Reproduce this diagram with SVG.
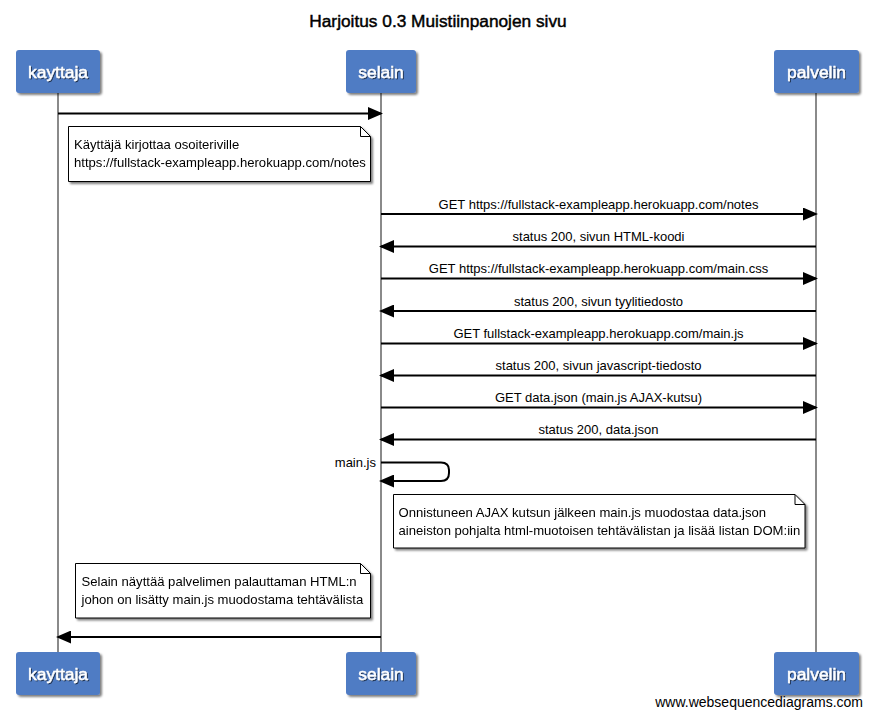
<svg xmlns="http://www.w3.org/2000/svg" width="874" height="718" viewBox="0 0 874 718">
<style>
  text { font-family: "Liberation Sans", Arial, sans-serif; fill: #000; }
  .title { font-size: 17.3px; text-anchor: middle; stroke: #000; stroke-width: 0.45; }
  .actor rect { fill: #4f7bc4; }
  .actor text { font-size: 17.4px; fill: #fff; stroke: #fff; stroke-width: 0.45; text-anchor: middle; }
  .life { stroke: #8a8a8a; stroke-width: 2; fill: none; }
  .msg { stroke: #000; stroke-width: 2; fill: none; }
  .lbl { font-size: 13px; text-anchor: middle; }
  .note path.body { fill: #fff; stroke: #000; stroke-width: 1; }
  .note path.fold { fill: none; stroke: #000; stroke-width: 1; }
  .note text { font-size: 13.1px; }
  .foot { font-size: 14px; text-anchor: end; }
</style>
<defs>
  <marker id="ah" markerUnits="userSpaceOnUse" markerWidth="15" markerHeight="13" refX="13" refY="6.5" orient="auto">
    <path d="M0,0 L15,6.5 L0,13 Z" fill="#000"/>
  </marker>
  <filter id="sh" x="-10%" y="-10%" width="130%" height="140%">
    <feGaussianBlur in="SourceAlpha" stdDeviation="1.2"/>
    <feOffset dx="2" dy="2" result="b"/>
    <feComponentTransfer><feFuncA type="linear" slope="0.5"/></feComponentTransfer>
    <feMerge><feMergeNode/><feMergeNode in="SourceGraphic"/></feMerge>
  </filter>
  <filter id="tsh" x="-10%" y="-20%" width="130%" height="150%">
    <feOffset in="SourceAlpha" dx="1" dy="1"/>
    <feGaussianBlur stdDeviation="0.6"/>
    <feComponentTransfer><feFuncA type="linear" slope="0.6"/></feComponentTransfer>
    <feMerge><feMergeNode/><feMergeNode in="SourceGraphic"/></feMerge>
  </filter>
</defs>
<rect width="874" height="718" fill="#fff"/>
<text class="title" x="438" y="27">Harjoitus 0.3 Muistiinpanojen sivu</text>

<g id="lifelines">
  <line class="life" x1="58" y1="93" x2="58" y2="652"/>
  <line class="life" x1="381" y1="93" x2="381" y2="652"/>
  <line class="life" x1="816" y1="93" x2="816" y2="652"/>
</g>

<g id="kayttaja" class="actor">
  <rect x="16" y="50" width="84" height="43" rx="3" filter="url(#sh)"/>
  <text x="58" y="78" filter="url(#tsh)">kayttaja</text>
</g>
<g id="selain" class="actor">
  <rect x="346" y="50" width="70" height="43" rx="3" filter="url(#sh)"/>
  <text x="381" y="78" filter="url(#tsh)">selain</text>
</g>
<g id="palvelin" class="actor">
  <rect x="774" y="50" width="85" height="43" rx="3" filter="url(#sh)"/>
  <text x="816.5" y="78" filter="url(#tsh)">palvelin</text>
</g>
<g id="kayttaja-bottom" class="actor">
  <rect x="16" y="652" width="84" height="43" rx="3" filter="url(#sh)"/>
  <text x="58" y="680" filter="url(#tsh)">kayttaja</text>
</g>
<g id="selain-bottom" class="actor">
  <rect x="346" y="652" width="70" height="43" rx="3" filter="url(#sh)"/>
  <text x="381" y="680" filter="url(#tsh)">selain</text>
</g>
<g id="palvelin-bottom" class="actor">
  <rect x="774" y="652" width="85" height="43" rx="3" filter="url(#sh)"/>
  <text x="816.5" y="680" filter="url(#tsh)">palvelin</text>
</g>

<g id="connectors">
  <line class="msg" x1="58" y1="113.5" x2="381" y2="113.5" marker-end="url(#ah)"/>

  <line class="msg" x1="381" y1="214" x2="816" y2="214" marker-end="url(#ah)"/>
  <text class="lbl" x="598.5" y="208.5">GET https://fullstack-exampleapp.herokuapp.com/notes</text>

  <line class="msg" x1="816" y1="246.5" x2="381" y2="246.5" marker-end="url(#ah)"/>
  <text class="lbl" x="598.5" y="241">status 200, sivun HTML-koodi</text>

  <line class="msg" x1="381" y1="278.5" x2="816" y2="278.5" marker-end="url(#ah)"/>
  <text class="lbl" x="598.5" y="273">GET https://fullstack-exampleapp.herokuapp.com/main.css</text>

  <line class="msg" x1="816" y1="311" x2="381" y2="311" marker-end="url(#ah)"/>
  <text class="lbl" x="598.5" y="305.5">status 200, sivun tyylitiedosto</text>

  <line class="msg" x1="381" y1="343.5" x2="816" y2="343.5" marker-end="url(#ah)"/>
  <text class="lbl" x="598.5" y="338">GET fullstack-exampleapp.herokuapp.com/main.js</text>

  <line class="msg" x1="816" y1="375.5" x2="381" y2="375.5" marker-end="url(#ah)"/>
  <text class="lbl" x="598.5" y="370">status 200, sivun javascript-tiedosto</text>

  <line class="msg" x1="381" y1="407.5" x2="816" y2="407.5" marker-end="url(#ah)"/>
  <text class="lbl" x="598.5" y="402">GET data.json (main.js AJAX-kutsu)</text>

  <line class="msg" x1="816" y1="439.5" x2="381" y2="439.5" marker-end="url(#ah)"/>
  <text class="lbl" x="598.5" y="434">status 200, data.json</text>

  <path class="msg" d="M381,462.5 H441 Q449,462.5 449,470 V473 Q449,481 441,481 H381" marker-end="url(#ah)"/>
  <text class="lbl" x="376" y="467" style="text-anchor:end">main.js</text>

  <line class="msg" x1="381" y1="637" x2="58" y2="637" marker-end="url(#ah)"/>
</g>

<g id="note1" class="note" filter="url(#sh)">
  <path class="body" d="M68.5,126.5 H360.5 L370.5,136.5 V181.5 H68.5 Z"/>
  <path class="fold" d="M360.5,126.5 V136.5 H370.5"/>
  <text x="74" y="149">Käyttäjä kirjottaa osoiteriville</text>
  <text x="74" y="167">https://fullstack-exampleapp.herokuapp.com/notes</text>
</g>

<g id="note2" class="note" filter="url(#sh)">
  <path class="body" d="M393.5,494.5 H795 L805,504.5 V548 H393.5 Z"/>
  <path class="fold" d="M795,494.5 V504.5 H805"/>
  <text x="398.5" y="516.5">Onnistuneen AJAX kutsun jälkeen main.js muodostaa data.json</text>
  <text x="398.5" y="534.5">aineiston pohjalta html-muotoisen tehtävälistan ja lisää listan DOM:iin</text>
</g>

<g id="note3" class="note" filter="url(#sh)">
  <path class="body" d="M75.5,563.5 H360.5 L370.5,573.5 V618 H75.5 Z"/>
  <path class="fold" d="M360.5,563.5 V573.5 H370.5"/>
  <text x="81.5" y="586">Selain näyttää palvelimen palauttaman HTML:n</text>
  <text x="81.5" y="604">johon on lisätty main.js muodostama tehtävälista</text>
</g>

<text class="foot" x="863" y="707">www.websequencediagrams.com</text>
</svg>
